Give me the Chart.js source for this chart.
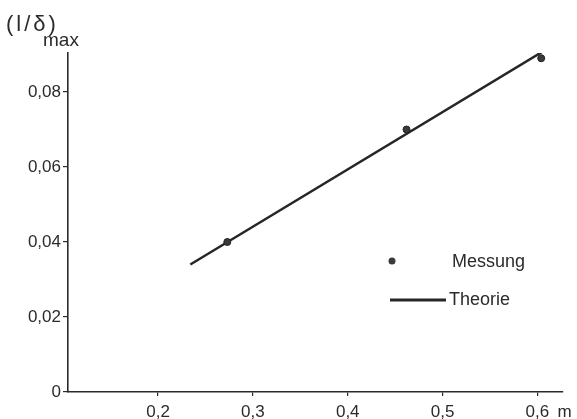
<!DOCTYPE html>
<html>
<head>
<meta charset="utf-8">
<style>
  html, body { margin: 0; padding: 0; background: #fff; }
</style>
</head>
<body>
<canvas id="myChart" width="577" height="419"></canvas>
<script src="https://cdn.jsdelivr.net/npm/chart.js@4/dist/chart.umd.min.js"></script>
<script>
'use strict';

// values
const messungX = [0.273, 0.462, 0.604];
const messungY = [0.040, 0.070, 0.089];
const theorieX = [0.234, 0.607];
const theorieY = [0.034, 0.091];

const xTicks = [0.2, 0.3, 0.4, 0.5, 0.6];
const xTickLabels = ['0,2', '0,3', '0,4', '0,5', '0,6'];
const yTicks = [0, 0.02, 0.04, 0.06, 0.08];
const yTickLabels = ['0', '0,02', '0,04', '0,06', '0,08'];
const seriesNames = ['Messung', 'Theorie'];

const ink = '#2b2b2b';
const fontFamily = '"Liberation Sans", Arial, sans-serif';

const messung = messungX.map((v, i) => ({ x: v, y: messungY[i] }));
const theorie = theorieX.map((v, i) => ({ x: v, y: theorieY[i] }));

// hand drawn style legend, axis title and unit
const extras = {
  id: 'extras',
  afterDraw(chart) {
    const { ctx, chartArea } = chart;
    const ds = chart.data.datasets;
    ctx.save();
    ctx.fillStyle = ink;
    ctx.strokeStyle = ink;

    // y title (l/δ)max
    ctx.textBaseline = 'alphabetic';
    ctx.textAlign = 'left';
    ctx.font = '22px ' + fontFamily;
    ctx.letterSpacing = '3px';
    ctx.fillText('(l/δ)', 6, 31);
    ctx.letterSpacing = '0px';
    ctx.font = '19px ' + fontFamily;
    ctx.fillText('max', 43, 46);

    // unit of x axis
    const xs = chart.scales.x;
    ctx.font = '17px ' + fontFamily;
    ctx.textBaseline = 'middle';
    ctx.fillText('m', xs.getPixelForValue(xTicks[xTicks.length - 1]) + 20, 412);

    // legend
    const lx = chartArea.left + 324;
    const ly = chartArea.top + 208;
    ctx.font = '18px ' + fontFamily;
    ctx.beginPath();
    ctx.arc(lx, ly, ds[0].pointRadius, 0, Math.PI * 2);
    ctx.fillStyle = ds[0].backgroundColor;
    ctx.fill();
    ctx.fillStyle = ink;
    ctx.fillText(seriesNames[0], lx + 60, ly + 1);

    ctx.lineWidth = ds[1].borderWidth + 0.5;
    ctx.strokeStyle = ds[1].borderColor;
    ctx.beginPath();
    ctx.moveTo(lx - 2, ly + 39);
    ctx.lineTo(lx + 54, ly + 39);
    ctx.stroke();
    ctx.fillText(seriesNames[1], lx + 57, ly + 39);
    ctx.restore();
  }
};

const ctx = document.getElementById('myChart');

new Chart(ctx, {
  type: 'scatter',
  data: {
    datasets: [
      {
        label: seriesNames[0],
        data: messung,
        pointRadius: 3.5,
        pointBackgroundColor: '#3a3a3a',
        backgroundColor: '#3a3a3a',
        borderColor: '#222',
        borderWidth: 1,
        order: 0
      },
      {
        label: seriesNames[1],
        data: theorie,
        showLine: true,
        pointRadius: 0,
        borderColor: '#262626',
        borderWidth: 2.5,
        order: 1
      }
    ]
  },
  options: {
    responsive: false,
    animation: false,
    layout: { padding: { top: 53, right: 14, left: 0, bottom: 0 } },
    plugins: {
      legend: { display: false },
      tooltip: { enabled: false }
    },
    scales: {
      x: {
        type: 'linear',
        min: 0.105,
        max: 0.627,
        afterBuildTicks: s => { s.ticks = xTicks.map(v => ({ value: v })); },
        afterFit: s => { s.height = 27; },
        border: { display: true, color: ink, width: 1.6 },
        grid: { drawOnChartArea: false, drawTicks: true, tickLength: 4, color: ink, lineWidth: 1.2 },
        ticks: {
          autoSkip: false,
          maxRotation: 0,
          padding: 6,
          color: ink,
          font: { family: fontFamily, size: 17 },
          callback: v => xTickLabels[xTicks.indexOf(v)]
        }
      },
      y: {
        type: 'linear',
        min: 0,
        max: 0.0904,
        afterBuildTicks: s => { s.ticks = yTicks.map(v => ({ value: v })); },
        afterFit: s => { s.width = 68; },
        border: { display: true, color: ink, width: 1.6 },
        grid: { drawOnChartArea: false, drawTicks: true, tickLength: 5, color: ink, lineWidth: 1.2 },
        ticks: {
          padding: 2,
          color: ink,
          font: { family: fontFamily, size: 17 },
          callback: v => yTickLabels[yTicks.indexOf(v)]
        }
      }
    }
  },
  plugins: [extras]
});
</script>
</body>
</html>
